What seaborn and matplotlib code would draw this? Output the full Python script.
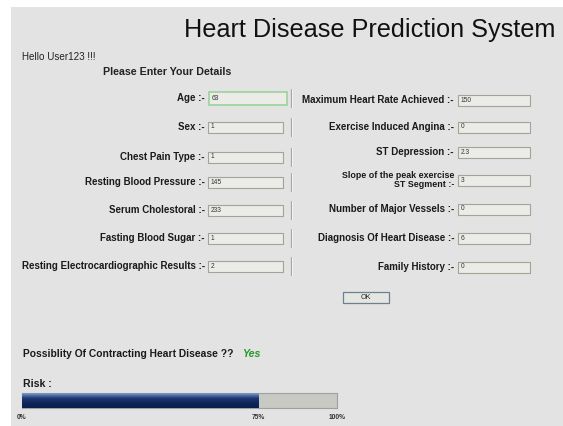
import seaborn as sns
import matplotlib.pyplot as plt
import numpy as np
from matplotlib.patches import Rectangle

# form contents
title = "Heart Disease Prediction System"
greeting = "Hello User123 !!!"
subtitle = "Please Enter Your Details"

left_labels = ["Age :-", "Sex :-", "Chest Pain Type :-", "Resting Blood Pressure :-",
               "Serum Cholestoral :-", "Fasting Blood Sugar :-",
               "Resting Electrocardiographic Results :-"]
left_values = ["63", "1", "1", "145", "233", "1", "2"]

right_labels = ["Maximum Heart Rate Achieved :-", "Exercise Induced Angina :-",
                "ST Depression :-", "Slope of the peak exercise\nST Segment :-",
                "Number of Major Vessels :-", "Diagnosis Of Heart Disease :-",
                "Family History :-"]
right_values = ["150", "0", "2.3", "3", "0", "6", "0"]

question = "Possiblity Of Contracting Heart Disease ??"
answer = "Yes"
risk = 75
risk_ticks = [0, 75, 100]
risk_tick_labels = ["0%", "75%", "100%"]

sns.set_theme(style="white")
plt.rcParams['font.family'] = ['Liberation Sans', 'DejaVu Sans']

W, H = 563, 426
fig = plt.figure(figsize=(W / 100, H / 100), dpi=100, facecolor="white")
ax = fig.add_axes([0, 0, 1, 1])
ax.set_xlim(0, W)
ax.set_ylim(H, 0)
ax.axis("off")

ax.add_patch(Rectangle((11, 7), W - 11, H - 7, facecolor="#e3e3e3", edgecolor="none"))

ax.text(184, 30, title, fontsize=18.2, ha="left", va="center", color="#111111")
ax.text(22, 57, greeting, fontsize=7.1, ha="left", va="center", color="#222222")
ax.text(103, 72, subtitle, fontsize=7.7, fontweight="bold", ha="left", va="center", color="#222222")

lab_kw = dict(fontsize=7.0, fontweight="bold", ha="right", va="center", color="#1a1a1a")
val_kw = dict(fontsize=4.8, ha="left", va="center", color="#333333")


def field(xl, xb, wb, y, label, value, focus=False, small=False):
    kw = dict(lab_kw)
    if small:
        kw["fontsize"] = 6.4
    ax.text(xl, y, label, linespacing=1.0, **kw)
    ec = "#9bd39a" if focus else "#a3a39a"
    hb = 13 if focus else 11
    ax.add_patch(Rectangle((xb, y - hb / 2), wb, hb, facecolor="#ebebe7",
                           edgecolor=ec, linewidth=1.2 if focus else 0.8))
    ax.text(xb + 3, y, value, **val_kw)


left_y = [98, 127, 157, 182, 210, 238, 266]
for i, (lab, val) in enumerate(zip(left_labels, left_values)):
    w = 78 if i == 0 else 75
    field(205, 209 if i == 0 else 208, w, left_y[i], lab, val, focus=(i == 0))
    ax.plot([291, 291], [left_y[i] - 9, left_y[i] + 9], color="#a8a8a8", lw=0.9)
    ax.plot([292, 292], [left_y[i] - 9, left_y[i] + 9], color="#f6f6f6", lw=0.6)

right_y = [100, 127, 152, 180, 209, 238, 267]
for i, (lab, val) in enumerate(zip(right_labels, right_values)):
    field(454, 458, 72, right_y[i], lab, val, small=("\n" in lab))

# OK button
ax.add_patch(Rectangle((343, 292), 46, 11, facecolor="#e6e6e0", edgecolor="#6d7f92", linewidth=0.9))
ax.text(366, 297.5, "OK", fontsize=5.2, ha="center", va="center", color="#222222")

ax.text(23, 354, question, fontsize=7.4, fontweight="bold", ha="left", va="center", color="#1a1a1a")
ax.text(242, 354, answer, fontsize=7.6, fontweight="bold", style="italic",
        ha="left", va="center", color="#2a9a2a")
ax.text(23, 384, "Risk :", fontsize=7.6, fontweight="bold", ha="left", va="center", color="#1a1a1a")

# progress bar
pax = fig.add_axes([22 / W, (H - 408) / H, 315 / W, 15 / H])
sns.barplot(x=[100], y=[0], orient="h", color="#c9c9c3", width=1, ax=pax,
            edgecolor="none", saturation=1)
sns.barplot(x=[risk], y=[0], orient="h", color="#142c63", width=1, ax=pax,
            edgecolor="none", saturation=1)
bar = pax.patches[-1]
grad = np.linspace(0, 1, 50).reshape(-1, 1)
bx, by, bw, bh = bar.get_x(), bar.get_y(), bar.get_width(), bar.get_height()
im = pax.imshow(grad, extent=[bx, bx + bw, by + bh, by], aspect="auto",
                cmap=sns.blend_palette(["#7f9cc8", "#1d3a75", "#0e2558", "#0b1f4e"], as_cmap=True),
                zorder=3)
im.set_clip_path(bar)
pax.set_xlim(0, 100)
pax.set_ylim(0.5, -0.5)
pax.set_yticks([])
pax.set_xticks(risk_ticks)
pax.set_xticklabels(risk_tick_labels, fontsize=4.8, fontweight="bold", color="#333333")
pax.tick_params(axis="x", length=0, pad=4)
for s in pax.spines.values():
    s.set_color("#a0a0a0")
    s.set_linewidth(0.8)

fig.savefig("out.png", dpi=100, facecolor="white")
